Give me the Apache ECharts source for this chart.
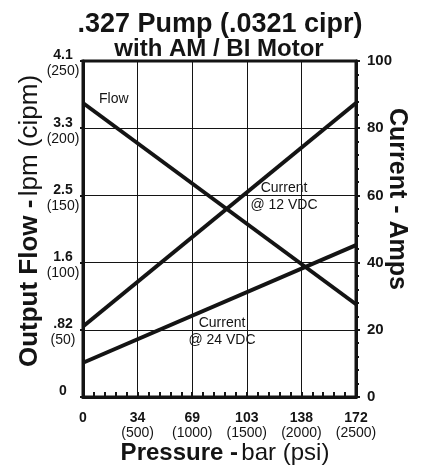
<!DOCTYPE html>
<html>
<head>
<meta charset="utf-8">
<script src="https://cdn.jsdelivr.net/npm/echarts@6/dist/echarts.min.js"></script>
<style>
html,body{margin:0;padding:0;background:#fff;}
#chart{width:423px;height:470px;}
</style>
</head>
<body>
<div id="chart"></div>
<script>
// ---- data ----
var pressurePsi = [0, 2500];
var flowCipm = [218.75, 69];
var current12 = [21, 87.5];
var current24 = [10.2, 45.2];

var pressureTickPsi = [0, 500, 1000, 1500, 2000, 2500];
var pressureTickBar = ['0', '34', '69', '103', '138', '172'];
var flowTickCipm = [0, 50, 100, 150, 200, 250];
var flowTickLpm = ['0', '.82', '1.6', '2.5', '3.3', '4.1'];

var FONT = '"Liberation Sans", Arial, sans-serif';
var INK = '#141414';

var chart = echarts.init(document.getElementById('chart'), null, {renderer: 'canvas'});

function pairs(xs, ys) { return xs.map(function (x, i) { return [x, ys[i]]; }); }

var option = {
  backgroundColor: '#fff',
  animation: false,
  title: [
    {text: '.327 Pump (.0321 cipr)', left: 215, top: 6, textAlign: 'center',
     textStyle: {fontFamily: FONT, fontSize: 27, fontWeight: 'bold', color: INK}},
    {text: 'with AM / BI Motor', left: 214, top: 32, textAlign: 'center',
     textStyle: {fontFamily: FONT, fontSize: 24, fontWeight: 'bold', color: INK}}
  ],
  grid: {left: 83, right: 67, top: 61, bottom: 73, show: true, borderColor: INK, borderWidth: 3, containLabel: false},
  xAxis: {
    type: 'value', min: 0, max: 2500, interval: 500,
    axisLine: {show: true, lineStyle: {color: INK, width: 3}},
    axisTick: {show: true, inside: true, length: 5, lineStyle: {color: INK, width: 2}},
    minorTick: {show: true, splitNumber: 5, length: 5, lineStyle: {color: INK, width: 2}},
    splitLine: {show: true, lineStyle: {color: INK, width: 1}},
    axisLabel: {
      margin: 14,
      formatter: function (v) {
        var i = pressureTickPsi.indexOf(v);
        if (i < 0) return '';
        if (v === 0) return '{b|' + pressureTickBar[i] + '}';
        return '{b|' + pressureTickBar[i] + '}\n{r|(' + v + ')}';
      },
      rich: {
        b: {fontFamily: FONT, fontSize: 14, fontWeight: 'bold', color: INK, lineHeight: 15},
        r: {fontFamily: FONT, fontSize: 14, color: INK, lineHeight: 15}
      }
    }
  },
  yAxis: [
    {
      type: 'value', min: 0, max: 250, interval: 50, position: 'left',
      axisLine: {show: true, lineStyle: {color: INK, width: 3}},
      axisTick: {show: true, length: 3, lineStyle: {color: INK, width: 2}},
      splitLine: {show: true, lineStyle: {color: INK, width: 1}},
      axisLabel: {
        margin: 20, align: 'center', padding: [5, 0, 0, 0],
        formatter: function (v) {
          var i = flowTickCipm.indexOf(v);
          if (i < 0) return '';
          if (v === 0) return '{b|0}\n{r| }';
          return '{b|' + flowTickLpm[i] + '}\n{r|(' + v + ')}';
        },
        rich: {
          b: {fontFamily: FONT, fontSize: 14, fontWeight: 'bold', color: INK, lineHeight: 16, align: 'center'},
          r: {fontFamily: FONT, fontSize: 14, color: INK, lineHeight: 16, align: 'center'}
        }
      }
    },
    {
      type: 'value', min: 0, max: 100, interval: 20, position: 'right',
      axisLine: {show: true, lineStyle: {color: INK, width: 3}},
      axisTick: {show: true, length: 4, lineStyle: {color: INK, width: 2}},
      minorTick: {show: true, splitNumber: 5, length: 3, lineStyle: {color: INK, width: 2}},
      splitLine: {show: false},
      axisLabel: {margin: 11, fontFamily: FONT, fontSize: 15, fontWeight: 'bold', color: INK}
    }
  ],
  series: [
    {name: 'Flow', type: 'line', yAxisIndex: 0, data: pairs(pressurePsi, flowCipm),
     symbol: 'none', lineStyle: {color: INK, width: 4}},
    {name: 'Current @ 12 VDC', type: 'line', yAxisIndex: 1, data: pairs(pressurePsi, current12),
     symbol: 'none', lineStyle: {color: INK, width: 4}},
    {name: 'Current @ 24 VDC', type: 'line', yAxisIndex: 1, data: pairs(pressurePsi, current24),
     symbol: 'none', lineStyle: {color: INK, width: 4}}
  ],
  graphic: [
    // axis names
    {type: 'text', x: 30, y: 221, rotation: Math.PI / 2,
     style: {text: '{b|Output Flow -} {r|lpm (cipm)}', align: 'center', verticalAlign: 'middle',
       rich: {b: {fontFamily: FONT, fontSize: 26, fontWeight: 'bold', fill: INK},
              r: {fontFamily: FONT, fontSize: 26, fill: INK}}}},
    {type: 'text', x: 397, y: 199, rotation: -Math.PI / 2,
     style: {text: 'Current - Amps', align: 'center', verticalAlign: 'middle',
       fontFamily: FONT, fontSize: 25, fontWeight: 'bold', fill: INK}},
    {type: 'text', x: 225, y: 453,
     style: {text: '{b|Pressure -} {r|bar (psi)}', align: 'center', verticalAlign: 'middle',
       rich: {b: {fontFamily: FONT, fontSize: 24, fontWeight: 'bold', fill: INK},
              r: {fontFamily: FONT, fontSize: 24, fill: INK}}}},
    // annotations
    {type: 'text', left: 99, top: 92, style: {text: 'Flow', fontFamily: FONT, fontSize: 14, fill: INK}},
    {type: 'text', x: 284, y: 197, style: {text: 'Current\n@ 12 VDC', align: 'center', verticalAlign: 'middle',
      fontFamily: FONT, fontSize: 14, lineHeight: 17, fill: INK}},
    {type: 'text', x: 222, y: 332, style: {text: 'Current\n@ 24 VDC', align: 'center', verticalAlign: 'middle',
      fontFamily: FONT, fontSize: 14, lineHeight: 17, fill: INK}}
  ]
};
chart.setOption(option);
</script>
</body>
</html>
